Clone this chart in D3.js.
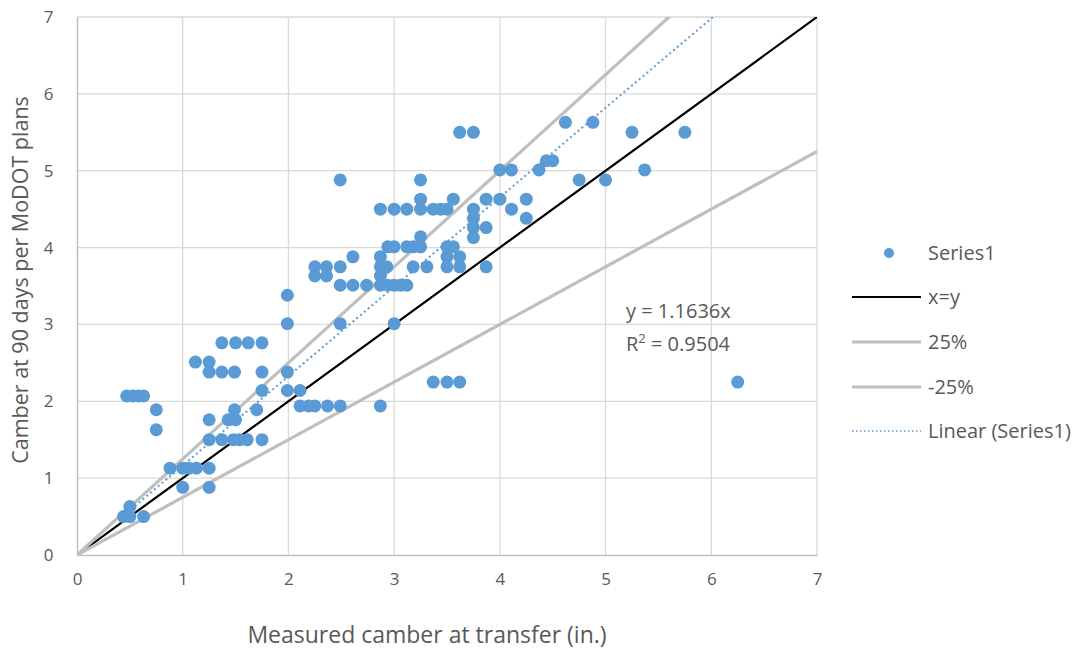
<!DOCTYPE html>
<html>
<head>
<meta charset="utf-8">
<script src="https://cdn.jsdelivr.net/npm/d3@7"></script>
<style>
  html, body { margin: 0; padding: 0; background: #fff; }
  svg { display: block; font-family: "Open Sans", Lato, sans-serif; }
</style>
</head>
<body>
<svg id="chart" width="1081" height="649"></svg>
<script>
// Measured camber at transfer (in.)
const measured = [
  0.44, 0.50, 0.50, 0.63,
  0.47, 0.53, 0.58, 0.63, 0.75, 0.75,
  0.88, 1.00, 1.06, 1.13, 1.25, 1.00, 1.25, 1.25,
  1.25, 1.37, 1.48, 1.54, 1.61, 1.75, 1.43, 1.50, 1.49, 1.70,
  1.75, 1.99, 2.11,
  1.25, 1.37, 1.49, 1.75, 1.99,
  1.12, 1.25,
  1.37, 1.50, 1.62, 1.75, 1.99, 1.99,
  2.11, 2.19, 2.25, 2.37, 2.49, 2.87, 2.49, 3.00,
  2.49, 2.61, 2.74, 2.87, 2.94, 3.00, 3.06, 3.12,
  2.25, 2.36, 2.49, 2.25, 2.36, 2.61, 2.87, 2.87, 2.87, 2.93, 3.18, 3.31, 2.49,
  2.94, 3.00, 3.12, 3.18, 3.25, 3.25, 3.50, 3.56, 3.50, 3.62, 3.50, 3.62,
  2.87, 3.00, 3.12, 3.25, 3.37, 3.44, 3.50, 3.25, 3.56, 3.25,
  3.62, 3.75, 3.75, 3.75, 3.75, 3.75, 3.87, 3.87, 4.00, 4.25, 4.11, 4.25, 3.87,
  4.00, 4.11, 4.37, 4.44, 4.50, 4.62, 4.88, 5.25, 5.75, 4.75, 5.00, 5.37,
  6.25, 3.37, 3.50, 3.62
];
// Camber at 90 days per MoDOT plans (in.)
const planned = [
  0.50, 0.63, 0.50, 0.50,
  2.07, 2.07, 2.07, 2.07, 1.89, 1.63,
  1.13, 1.13, 1.13, 1.13, 1.13, 0.88, 0.88, 1.76,
  1.50, 1.50, 1.50, 1.50, 1.50, 1.50, 1.76, 1.76, 1.89, 1.89,
  2.14, 2.14, 2.14,
  2.38, 2.38, 2.38, 2.38, 2.38,
  2.51, 2.51,
  2.76, 2.76, 2.76, 2.76, 3.01, 3.38,
  1.94, 1.94, 1.94, 1.94, 1.94, 1.94, 3.01, 3.01,
  3.51, 3.51, 3.51, 3.51, 3.51, 3.51, 3.51, 3.51,
  3.75, 3.75, 3.75, 3.63, 3.63, 3.88, 3.88, 3.63, 3.75, 3.75, 3.75, 3.75, 4.88,
  4.01, 4.01, 4.01, 4.01, 4.01, 4.14, 4.01, 4.01, 3.88, 3.88, 3.75, 3.75,
  4.50, 4.50, 4.50, 4.50, 4.50, 4.50, 4.50, 4.63, 4.63, 4.88,
  5.50, 5.50, 4.50, 4.38, 4.26, 4.13, 4.26, 4.63, 4.63, 4.63, 4.50, 4.38, 3.75,
  5.01, 5.01, 5.01, 5.13, 5.13, 5.63, 5.63, 5.50, 5.50, 4.88, 4.88, 5.01,
  2.25, 2.25, 2.25, 2.25
];

const xTicks = [0, 1, 2, 3, 4, 5, 6, 7];
const yTicks = [0, 1, 2, 3, 4, 5, 6, 7];

// Reference lines: slope of y against x
const refNames = ["x=y", "25%", "-25%"];
const refSlopes = [1.0, 1.25, 0.75];

// Fitted trendline through the origin
const trendSlope = 1.1636;
const trendR2 = 0.9504;

const legendLabels = ["Series1", "x=y", "25%", "-25%", "Linear (Series1)"];

const svg = d3.select("#chart");
const margin = { left: 77, right: 264, top: 17, bottom: 94 };
const W = 1081, H = 649;

const x = d3.scaleLinear().domain([0, 7]).range([margin.left, W - margin.right]);
const y = d3.scaleLinear().domain([0, 7]).range([H - margin.bottom, margin.top]);

const blue = "#5b9bd5";
const gridColor = "#d9d9d9";
const textColor = "#595959";

svg.append("defs").append("clipPath").attr("id", "plotClip")
  .append("rect")
  .attr("x", x(0)).attr("y", y(7))
  .attr("width", x(7) - x(0)).attr("height", y(0) - y(7));

// Gridlines
const grid = svg.append("g");
grid.selectAll("line.v").data(xTicks.slice(1)).join("line")
  .attr("x1", d => x(d)).attr("x2", d => x(d))
  .attr("y1", y(0)).attr("y2", y(7))
  .attr("stroke", gridColor).attr("stroke-width", 1.3);
grid.selectAll("line.h").data(yTicks.slice(1)).join("line")
  .attr("x1", x(0)).attr("x2", x(7))
  .attr("y1", d => y(d)).attr("y2", d => y(d))
  .attr("stroke", gridColor).attr("stroke-width", 1.3);

// Axes
const xAxis = d3.axisBottom(x).tickValues(xTicks).tickFormat(d3.format("d")).tickSize(0).tickPadding(16);
const yAxis = d3.axisLeft(y).tickValues(yTicks).tickFormat(d3.format("d")).tickSize(0).tickPadding(16);
const gx = svg.append("g").attr("transform", `translate(0,${y(0)})`).call(xAxis);
const gy = svg.append("g").attr("transform", `translate(${x(0)},0)`).call(yAxis);
[gx, gy].forEach(g => {
  g.select(".domain").attr("stroke", "#bfbfbf").attr("stroke-width", 1.5);
  g.selectAll("text").attr("fill", textColor).style("font-size", "17px")
    .style("font-family", "'Open Sans', Lato, sans-serif");
});
gx.selectAll("text").attr("dy", "0.8em");
gy.selectAll("text").attr("dx", "-0.45em");

// Axis titles
svg.append("text")
  .attr("x", 427).attr("y", 643)
  .attr("text-anchor", "middle").attr("fill", textColor)
  .style("font-size", "23px")
  .text("Measured camber at transfer (in.)");
svg.append("text")
  .attr("transform", `translate(28,280) rotate(-90)`)
  .attr("text-anchor", "middle").attr("fill", textColor)
  .style("font-size", "21.5px")
  .text("Camber at 90 days per MoDOT plans");

const plot = svg.append("g").attr("clip-path", "url(#plotClip)");

// Reference lines
const refStyles = [
  { color: "#000000", width: 2.2 },
  { color: "#bfbfbf", width: 3.2 },
  { color: "#bfbfbf", width: 3.2 }
];
plot.selectAll("line.ref").data(refSlopes).join("line")
  .attr("x1", x(0)).attr("y1", y(0))
  .attr("x2", x(7)).attr("y2", (d) => y(7 * d))
  .attr("stroke", (d, i) => refStyles[i].color)
  .attr("stroke-width", (d, i) => refStyles[i].width);

// Scatter points
const pts = measured.map((m, i) => ({ m, p: planned[i] }));
plot.selectAll("circle.pt").data(pts).join("circle")
  .attr("cx", d => x(d.m)).attr("cy", d => y(d.p))
  .attr("r", 6.5).attr("fill", blue);

// Linear trendline over the measured range
const xMin = d3.min(measured), xMax = d3.max(measured);
plot.append("line")
  .attr("x1", x(xMin)).attr("y1", y(trendSlope * xMin))
  .attr("x2", x(xMax)).attr("y2", y(trendSlope * xMax))
  .attr("stroke", blue).attr("stroke-width", 2)
  .attr("stroke-dasharray", "2,3");

// Trendline equation
const eq = svg.append("g").attr("fill", textColor).style("font-size", "20px");
eq.append("text").attr("x", 626).attr("y", 318).text(`y = ${trendSlope}x`);
const r2 = eq.append("text").attr("x", 626).attr("y", 351);
r2.append("tspan").text("R");
r2.append("tspan").attr("dy", -8).style("font-size", "13px").text("2");
r2.append("tspan").attr("dy", 8).text(` = ${trendR2}`);

// Legend
const lg = svg.append("g");
const lgY = [253, 297, 342, 387, 431];
lgY.forEach((yy, i) => {
  if (i === 0) {
    lg.append("circle").attr("cx", 889).attr("cy", yy).attr("r", 5).attr("fill", blue);
  } else if (i < 4) {
    const s = refStyles[i - 1];
    lg.append("line").attr("x1", 852).attr("x2", 921).attr("y1", yy).attr("y2", yy)
      .attr("stroke", s.color).attr("stroke-width", s.width);
  } else {
    lg.append("line").attr("x1", 852).attr("x2", 921).attr("y1", yy).attr("y2", yy)
      .attr("stroke", blue).attr("stroke-width", 1.5).attr("stroke-dasharray", "1.5,2.5");
  }
  lg.append("text").attr("x", 928).attr("y", yy).attr("dy", "0.35em")
    .attr("fill", textColor).style("font-size", "20px").text(legendLabels[i]);
});
</script>
</body>
</html>
